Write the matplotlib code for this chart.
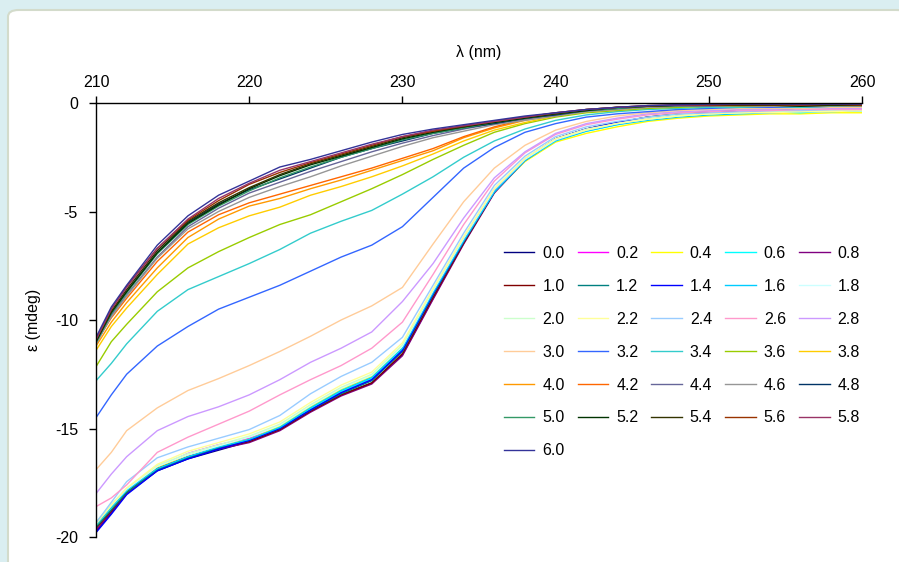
import matplotlib
matplotlib.use("Agg")
import matplotlib.pyplot as plt
from matplotlib.patches import FancyBboxPatch

plt.rcParams['font.family'] = ['Liberation Sans', 'DejaVu Sans']
plt.rcParams['axes.unicode_minus'] = False

wavelength = [210, 211, 212, 214, 216, 218, 220, 222, 224, 226, 228, 230, 232, 234,
              236, 238, 240, 242, 244, 246, 248, 250, 252, 254, 256, 258, 260]

labels = ["0.0", "0.2", "0.4", "0.6", "0.8", "1.0", "1.2", "1.4", "1.6", "1.8",
          "2.0", "2.2", "2.4", "2.6", "2.8", "3.0", "3.2", "3.4", "3.6", "3.8",
          "4.0", "4.2", "4.4", "4.6", "4.8", "5.0", "5.2", "5.4", "5.6", "5.8", "6.0"]

colors = ["#000080", "#FF00FF", "#FFFF00", "#00FFFF", "#800080", "#800000", "#008080",
          "#0000FF", "#00CCFF", "#CCFFFF", "#CCFFCC", "#FFFF99", "#99CCFF", "#FF99CC",
          "#CC99FF", "#FFCC99", "#3366FF", "#33CCCC", "#99CC00", "#FFCC00", "#FF9900",
          "#FF6600", "#666699", "#969696", "#003366", "#339966", "#003300", "#333300",
          "#993300", "#993366", "#333399"]

s00 = [-19.75, -18.9, -18.0, -16.95, -16.4, -16.0, -15.6, -15.05, -14.2, -13.45, -12.9, -11.6, -9.0, -6.45,
       -4.1, -2.6, -1.7, -1.25, -0.95, -0.7, -0.55, -0.45, -0.4, -0.35, -0.35, -0.3, -0.3]
s02 = [-19.6, -18.7, -17.9, -16.8, -16.15, -15.75, -15.45, -14.95, -14.15, -13.35, -12.75, -11.45, -8.85, -6.35,
       -4.05, -2.6, -1.65, -1.2, -0.9, -0.65, -0.55, -0.45, -0.4, -0.45, -0.35, -0.4, -0.3]
s04 = [-19.5, -18.7, -17.9, -16.8, -16.2, -15.8, -15.5, -14.9, -14.0, -13.2, -12.6, -11.3, -8.7, -6.3,
       -4.1, -2.7, -1.8, -1.4, -1.1, -0.85, -0.7, -0.6, -0.55, -0.5, -0.5, -0.45, -0.45]
s06 = [-19.4, -18.6, -17.85, -16.9, -16.35, -15.9, -15.55, -14.95, -14.1, -13.3, -12.7, -11.35, -8.8, -6.4,
       -4.1, -2.65, -1.7, -1.3, -1.0, -0.75, -0.6, -0.5, -0.45, -0.4, -0.45, -0.35, -0.35]
s08 = [-19.7, -18.85, -18.0, -16.9, -16.35, -15.95, -15.65, -15.1, -14.25, -13.5, -12.95, -11.65, -9.05, -6.5,
       -4.15, -2.65, -1.7, -1.25, -0.95, -0.7, -0.55, -0.45, -0.4, -0.4, -0.35, -0.35, -0.3]
s10 = [-19.6, -18.8, -17.95, -16.85, -16.3, -15.9, -15.6, -15.05, -14.2, -13.45, -12.9, -11.55, -8.95, -6.45,
       -4.1, -2.6, -1.65, -1.2, -0.9, -0.65, -0.5, -0.4, -0.35, -0.35, -0.3, -0.3, -0.25]
s12 = [-19.55, -18.75, -17.95, -16.9, -16.35, -15.9, -15.55, -15.0, -14.15, -13.4, -12.8, -11.45, -8.85, -6.4,
       -4.1, -2.6, -1.65, -1.2, -0.9, -0.65, -0.5, -0.45, -0.4, -0.35, -0.3, -0.3, -0.25]
s14 = [-19.8, -18.95, -18.05, -16.95, -16.4, -15.95, -15.55, -15.0, -14.15, -13.35, -12.75, -11.4, -8.8, -6.35,
       -4.05, -2.6, -1.65, -1.2, -0.9, -0.7, -0.55, -0.45, -0.4, -0.4, -0.35, -0.3, -0.3]
s16 = [-19.45, -18.65, -17.85, -16.85, -16.3, -15.85, -15.5, -14.95, -14.05, -13.25, -12.65, -11.3, -8.75, -6.35,
       -4.1, -2.65, -1.75, -1.3, -1.0, -0.8, -0.65, -0.55, -0.5, -0.45, -0.4, -0.4, -0.35]
s18 = [-19.35, -18.55, -17.8, -16.75, -16.2, -15.8, -15.4, -14.85, -13.95, -13.15, -12.55, -11.2, -8.65, -6.25,
       -4.0, -2.6, -1.7, -1.25, -0.95, -0.75, -0.6, -0.5, -0.45, -0.4, -0.4, -0.35, -0.35]
s20 = [-19.3, -18.5, -17.75, -16.7, -16.15, -15.75, -15.35, -14.8, -13.9, -13.1, -12.5, -11.15, -8.6, -6.2,
       -3.95, -2.55, -1.65, -1.2, -0.95, -0.7, -0.55, -0.5, -0.45, -0.4, -0.35, -0.35, -0.3]
s22 = [-19.4, -18.55, -17.75, -16.65, -16.05, -15.65, -15.25, -14.7, -13.8, -13.0, -12.4, -11.05, -8.55, -6.15,
       -3.95, -2.55, -1.65, -1.25, -0.95, -0.75, -0.6, -0.5, -0.45, -0.45, -0.4, -0.4, -0.35]
s24 = [-19.35, -18.4, -17.45, -16.35, -15.85, -15.45, -15.05, -14.4, -13.4, -12.6, -11.95, -10.8, -8.4, -6.0,
       -3.8, -2.45, -1.55, -1.1, -0.85, -0.65, -0.5, -0.45, -0.4, -0.35, -0.35, -0.3, -0.3]
s26 = [-18.6, -18.2, -17.6, -16.1, -15.4, -14.8, -14.2, -13.45, -12.75, -12.1, -11.3, -10.1, -7.9, -5.6,
       -3.6, -2.3, -1.45, -1.0, -0.75, -0.55, -0.45, -0.4, -0.35, -0.35, -0.3, -0.3, -0.3]
s28 = [-18.0, -17.1, -16.3, -15.1, -14.45, -14.0, -13.45, -12.75, -11.95, -11.3, -10.55, -9.15, -7.4, -5.3,
       -3.45, -2.25, -1.4, -0.95, -0.7, -0.5, -0.4, -0.35, -0.3, -0.3, -0.25, -0.25, -0.25]
s30 = [-16.9, -16.1, -15.1, -14.05, -13.25, -12.7, -12.1, -11.45, -10.75, -10.0, -9.35, -8.5, -6.5, -4.55,
       -3.0, -1.95, -1.25, -0.85, -0.6, -0.45, -0.35, -0.3, -0.25, -0.25, -0.25, -0.2, -0.2]
s32 = [-14.5, -13.45, -12.5, -11.2, -10.3, -9.5, -8.95, -8.4, -7.75, -7.1, -6.55, -5.7, -4.35, -3.0,
       -2.05, -1.35, -0.95, -0.65, -0.5, -0.4, -0.3, -0.25, -0.2, -0.2, -0.2, -0.15, -0.15]
s34 = [-12.8, -12.0, -11.1, -9.6, -8.6, -8.0, -7.4, -6.75, -6.0, -5.45, -4.95, -4.2, -3.4, -2.5,
       -1.75, -1.2, -0.8, -0.55, -0.4, -0.3, -0.25, -0.2, -0.2, -0.15, -0.2, -0.15, -0.15]
s36 = [-12.15, -11.0, -10.2, -8.7, -7.6, -6.85, -6.2, -5.6, -5.15, -4.55, -3.95, -3.3, -2.6, -1.95,
       -1.35, -0.95, -0.65, -0.45, -0.35, -0.25, -0.2, -0.15, -0.15, -0.15, -0.15, -0.12, -0.12]
s38 = [-11.4, -10.3, -9.45, -7.9, -6.5, -5.75, -5.2, -4.8, -4.25, -3.85, -3.4, -2.9, -2.35, -1.75,
       -1.25, -0.9, -0.6, -0.4, -0.3, -0.2, -0.15, -0.12, -0.12, -0.12, -0.15, -0.1, -0.12]
s40 = [-11.2, -10.1, -9.2, -7.6, -6.2, -5.35, -4.75, -4.4, -3.95, -3.55, -3.1, -2.65, -2.2, -1.6,
       -1.15, -0.8, -0.55, -0.35, -0.25, -0.18, -0.12, -0.1, -0.1, -0.1, -0.12, -0.1, -0.1]
s42 = [-11.0, -9.9, -9.0, -7.3, -5.95, -5.15, -4.6, -4.2, -3.8, -3.4, -3.0, -2.55, -2.1, -1.55,
       -1.1, -0.75, -0.5, -0.35, -0.25, -0.18, -0.12, -0.1, -0.1, -0.1, -0.12, -0.1, -0.1]
s44 = [-11.1, -9.8, -8.85, -7.1, -5.7, -4.85, -4.15, -3.65, -3.15, -2.7, -2.25, -1.85, -1.5, -1.2,
       -0.95, -0.75, -0.55, -0.35, -0.25, -0.2, -0.15, -0.12, -0.12, -0.12, -0.15, -0.12, -0.12]
s46 = [-11.1, -9.85, -8.9, -7.15, -5.8, -5.0, -4.35, -3.85, -3.4, -2.9, -2.45, -2.0, -1.6, -1.3,
       -1.0, -0.8, -0.6, -0.4, -0.3, -0.2, -0.15, -0.15, -0.12, -0.15, -0.15, -0.12, -0.15]
s48 = [-11.0, -9.7, -8.7, -6.9, -5.5, -4.65, -4.0, -3.5, -3.0, -2.5, -2.1, -1.75, -1.4, -1.15,
       -0.95, -0.7, -0.55, -0.35, -0.25, -0.15, -0.12, -0.12, -0.1, -0.1, -0.12, -0.1, -0.1]
s50 = [-11.05, -9.7, -8.75, -6.95, -5.6, -4.75, -4.05, -3.45, -2.95, -2.5, -2.1, -1.7, -1.4, -1.15,
       -0.9, -0.7, -0.5, -0.35, -0.25, -0.15, -0.12, -0.1, -0.12, -0.1, -0.12, -0.1, -0.12]
s52 = [-11.0, -9.65, -8.7, -6.9, -5.55, -4.7, -3.95, -3.35, -2.85, -2.45, -2.05, -1.65, -1.35, -1.1,
       -0.9, -0.7, -0.5, -0.35, -0.2, -0.15, -0.1, -0.1, -0.1, -0.1, -0.15, -0.1, -0.1]
s54 = [-10.95, -9.6, -8.6, -6.8, -5.45, -4.6, -3.9, -3.3, -2.8, -2.4, -2.0, -1.6, -1.3, -1.1,
       -0.85, -0.65, -0.5, -0.3, -0.2, -0.15, -0.1, -0.1, -0.1, -0.1, -0.1, -0.1, -0.1]
s56 = [-10.9, -9.5, -8.45, -6.7, -5.4, -4.5, -3.75, -3.2, -2.75, -2.35, -1.95, -1.55, -1.3, -1.05,
       -0.85, -0.65, -0.45, -0.3, -0.2, -0.12, -0.1, -0.1, -0.08, -0.08, -0.1, -0.05, -0.1]
s58 = [-10.9, -9.5, -8.5, -6.7, -5.35, -4.4, -3.7, -3.1, -2.7, -2.3, -1.9, -1.55, -1.25, -1.05,
       -0.85, -0.65, -0.45, -0.3, -0.2, -0.12, -0.1, -0.08, -0.05, -0.05, -0.08, -0.05, -0.05]
s60 = [-10.8, -9.4, -8.4, -6.55, -5.2, -4.25, -3.6, -2.95, -2.6, -2.2, -1.8, -1.45, -1.2, -1.0,
       -0.8, -0.6, -0.45, -0.3, -0.2, -0.12, -0.08, -0.05, -0.05, -0.05, -0.05, -0.05, -0.05]

series = [s00, s02, s04, s06, s08, s10, s12, s14, s16, s18, s20, s22, s24, s26, s28, s30,
          s32, s34, s36, s38, s40, s42, s44, s46, s48, s50, s52, s54, s56, s58, s60]

fig = plt.figure(figsize=(8.99, 5.62), dpi=100)
fig.patch.set_facecolor("#daeef1")
panel = FancyBboxPatch((8 / 899, -0.05), 1.0, 1 - 10 / 562 + 0.05,
                       boxstyle="round,pad=0,rounding_size=0.012",
                       transform=fig.transFigure, facecolor="white",
                       edgecolor="#d3dbcb", linewidth=1.5, zorder=-10)
fig.patches.append(panel)

ax = fig.add_axes([96 / 899, 1 - 537 / 562, 766 / 899, 434 / 562])
ax.set_facecolor("none")

lines = []
for vals, lab, col in zip(series, labels, colors):
    ln, = ax.plot(wavelength, vals, color=col, lw=1.0, label=lab)
    lines.append(ln)

ax.set_xlim(210, 260)
ax.set_ylim(-20, 0)
ax.set_xticks(range(210, 261, 10))
ax.set_yticks(range(-20, 1, 5))
ax.xaxis.tick_top()
ax.xaxis.set_label_position("top")
ax.tick_params(axis="both", direction="out", length=5, width=1, labelsize=11.5, colors="black")
ax.tick_params(axis="x", pad=4.5)
ax.tick_params(axis="y", pad=8)
ax.spines["right"].set_visible(False)
ax.spines["bottom"].set_visible(False)
ax.spines["top"].set_linewidth(1.0)
ax.spines["left"].set_linewidth(1.0)
ax.set_xlabel("λ (nm)", fontsize=11.5, labelpad=13)
ax.set_ylabel("ε (mdeg)", fontsize=11.5, labelpad=10)

# legend reads row by row (5 per row), matplotlib fills column by column
ncol = 5
order = [i for c in range(ncol) for i in range(c, len(lines), ncol)]
ax.legend([lines[i] for i in order], [labels[i] for i in order],
          ncol=ncol, frameon=False, fontsize=11.5, loc="upper left",
          bbox_to_anchor=(504 / 899, 1 - 246 / 562), bbox_transform=fig.transFigure,
          handlelength=1.9, handletextpad=0.5, columnspacing=0.82, labelspacing=1.12,
          borderpad=0, borderaxespad=0)

fig.savefig("out.png", dpi=100, facecolor=fig.get_facecolor())
